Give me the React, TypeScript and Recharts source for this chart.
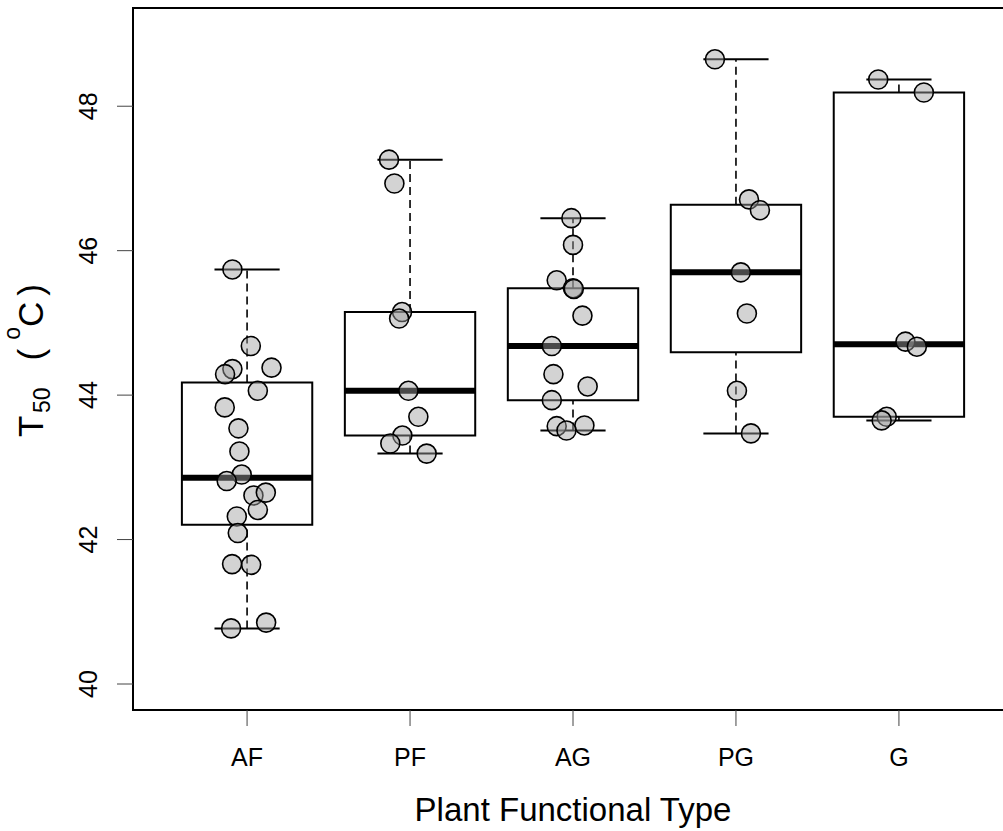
import { ScatterChart, Scatter, XAxis, YAxis, ReferenceArea, ReferenceLine } from 'recharts';

// plant functional types, left to right
const categories = ['AF', 'PF', 'AG', 'PG', 'G'];

// T50 values per group, and the horizontal jitter of each point (in category units)
const afValues = [45.74, 44.68, 44.36, 44.29, 44.38, 44.06, 43.83, 43.54, 43.22, 42.9, 42.81, 42.61, 42.65, 42.41, 42.32, 42.09, 41.66, 41.65, 40.77, 40.85];
const afJitter = [-0.09, 0.023, -0.09, -0.135, 0.15, 0.066, -0.137, -0.053, -0.047, -0.033, -0.125, 0.039, 0.115, 0.066, -0.063, -0.057, -0.092, 0.025, -0.098, 0.117];

const pfValues = [47.26, 46.93, 45.15, 45.06, 44.06, 43.7, 43.44, 43.33, 43.19];
const pfJitter = [-0.129, -0.096, -0.049, -0.067, -0.01, 0.051, -0.047, -0.121, 0.102];

const agValues = [46.45, 46.08, 45.59, 45.48, 45.47, 45.1, 44.68, 44.29, 44.12, 43.93, 43.57, 43.58, 43.51];
const agJitter = [-0.01, 0.0, -0.1, 0.0, 0.005, 0.058, -0.13, -0.12, 0.09, -0.13, -0.1, 0.07, -0.04];

const pgValues = [48.65, 46.71, 46.56, 45.7, 45.13, 44.06, 43.47];
const pgJitter = [-0.129, 0.08, 0.147, 0.03, 0.067, 0.006, 0.092];

const gValues = [48.37, 48.19, 44.74, 44.67, 43.7, 43.65];
const gJitter = [-0.127, 0.153, 0.04, 0.11, -0.075, -0.106];

const yTicks = [40, 42, 44, 46, 48];

const groups = [
  { values: afValues, jitter: afJitter },
  { values: pfValues, jitter: pfJitter },
  { values: agValues, jitter: agJitter },
  { values: pgValues, jitter: pgJitter },
  { values: gValues, jitter: gJitter },
];

// R-style fivenum + whiskers at the most extreme point within 1.5 IQR
function boxStats(values: number[]) {
  const x = [...values].sort((a, b) => a - b);
  const n = x.length;
  const n4 = Math.floor((n + 3) / 2) / 2;
  const d = [1, n4, (n + 1) / 2, n + 1 - n4, n];
  const f = d.map((v) => 0.5 * (x[Math.floor(v) - 1] + x[Math.ceil(v) - 1]));
  const iqr = f[3] - f[1];
  const lo = x.find((v) => v >= f[1] - 1.5 * iqr) ?? f[0];
  const hi = [...x].reverse().find((v) => v <= f[3] + 1.5 * iqr) ?? f[4];
  return { lo, q1: f[1], med: f[2], q3: f[3], hi };
}

const stats = groups.map((g) => boxStats(g.values));

const points = groups.flatMap((g, i) =>
  g.values.map((v, j) => ({ x: i + 1 + g.jitter[j], y: v }))
);

const BOX_HALF = 0.4;
const CAP_HALF = 0.2;

const Dot = (props: any) => (
  <circle
    cx={props.cx}
    cy={props.cy}
    r={9.5}
    fill="#a0a0a0"
    fillOpacity={0.46}
    stroke="#000"
    strokeWidth={1.6}
  />
);

const YTick = (props: any) => {
  const { x, y, payload } = props;
  return (
    <text x={x} y={y} transform={`rotate(-90, ${x}, ${y})`} textAnchor="middle" fontSize={25} fill="#000">
      {payload.value}
    </text>
  );
};

const XTitle = () => (
  <text x={573} y={821} textAnchor="middle" fontSize={33} fill="#000">
    Plant Functional Type
  </text>
);

const YTitle = () => (
  <text transform="translate(43, 437) rotate(-90)" fontSize={35} fill="#000">
    <tspan>T</tspan>
    <tspan dx={2.6} dy={7} fontSize={23}>50</tspan>
    <tspan dx={27} dy={-7}>(</tspan>
    <tspan dx={9} dy={-23} fontSize={23}>o</tspan>
    <tspan dx={0} dy={23}>C</tspan>
    <tspan dx={6}>)</tspan>
  </text>
);

export default function App() {
  return (
    <div
      style={{
        position: 'absolute',
        left: 0,
        top: 0,
        width: 1003,
        height: 831,
        overflow: 'hidden',
        background: '#fff',
        fontFamily: '"Liberation Sans", Arial, sans-serif',
      }}
    >
      <ScatterChart width={1020} height={831} margin={{ top: 8, right: 7, bottom: 0, left: 0 }}>
        <XAxis
          type="number"
          dataKey="x"
          domain={[0.3, 5.7]}
          allowDataOverflow
          ticks={[1, 2, 3, 4, 5]}
          interval={0}
          tickFormatter={(v: number) => categories[v - 1]}
          height={121}
          tickSize={16}
          tickMargin={22}
          axisLine={false}
          tickLine={{ stroke: '#444', strokeWidth: 1 }}
          tick={{ fontSize: 25, fill: '#000' }}
          label={{ content: XTitle }}
        />
        <YAxis
          type="number"
          dataKey="y"
          domain={[39.64, 49.36]}
          allowDataOverflow
          ticks={yTicks}
          interval={0}
          width={133}
          tickSize={16}
          tickMargin={20}
          axisLine={false}
          tickLine={{ stroke: '#444', strokeWidth: 1 }}
          tick={YTick}
          label={{ content: YTitle }}
        />
        <ReferenceArea x1={0.3} x2={5.7} y1={39.64} y2={49.36} fill="none" stroke="#000" strokeWidth={2} />
        {stats.map((s, i) => (
          <ReferenceLine
            key={`wl${i}`}
            segment={[{ x: i + 1, y: s.lo }, { x: i + 1, y: s.q1 }]}
            stroke="#000"
            strokeWidth={1.6}
            strokeDasharray="8 5"
          />
        ))}
        {stats.map((s, i) => (
          <ReferenceLine
            key={`wh${i}`}
            segment={[{ x: i + 1, y: s.q3 }, { x: i + 1, y: s.hi }]}
            stroke="#000"
            strokeWidth={1.6}
            strokeDasharray="8 5"
          />
        ))}
        {stats.map((s, i) => (
          <ReferenceLine
            key={`cl${i}`}
            segment={[{ x: i + 1 - CAP_HALF, y: s.lo }, { x: i + 1 + CAP_HALF, y: s.lo }]}
            stroke="#000"
            strokeWidth={2}
          />
        ))}
        {stats.map((s, i) => (
          <ReferenceLine
            key={`ch${i}`}
            segment={[{ x: i + 1 - CAP_HALF, y: s.hi }, { x: i + 1 + CAP_HALF, y: s.hi }]}
            stroke="#000"
            strokeWidth={2}
          />
        ))}
        {stats.map((s, i) => (
          <ReferenceArea
            key={`box${i}`}
            x1={i + 1 - BOX_HALF}
            x2={i + 1 + BOX_HALF}
            y1={s.q1}
            y2={s.q3}
            fill="#fff"
            fillOpacity={1}
            stroke="#000"
            strokeWidth={2}
          />
        ))}
        {stats.map((s, i) => (
          <ReferenceLine
            key={`med${i}`}
            segment={[{ x: i + 1 - BOX_HALF, y: s.med }, { x: i + 1 + BOX_HALF, y: s.med }]}
            stroke="#000"
            strokeWidth={6}
          />
        ))}
        <Scatter data={points} shape={Dot} isAnimationActive={false} />
      </ScatterChart>
    </div>
  );
}
